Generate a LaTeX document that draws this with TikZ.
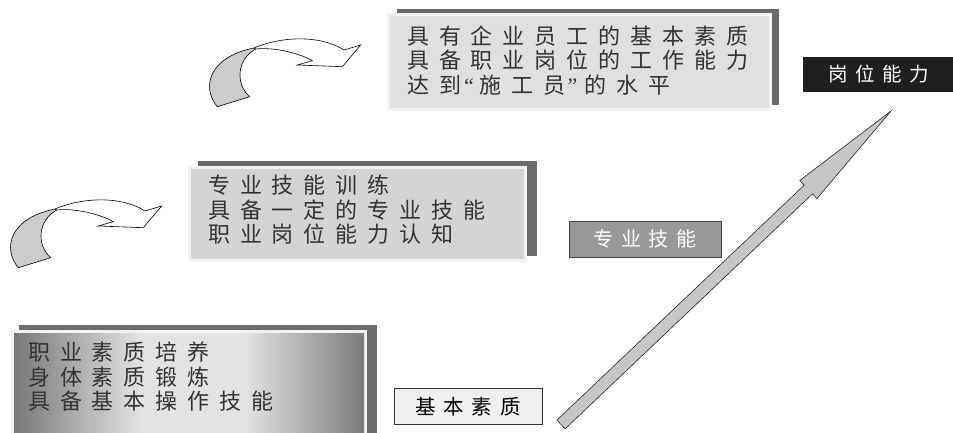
\documentclass[tikz,border=0pt]{standalone}
\usepackage{fontspec}
\usepackage{xcolor}
\usepackage{tikz}
\usetikzlibrary{calc}
\newfontfamily\cjk[LetterSpace=45]{Noto Sans CJK SC}
\newfontfamily\tagcjk[LetterSpace=38]{Noto Sans CJK SC}
\newfontfamily\quotefont{Liberation Serif}
\definecolor{shadowgray}{HTML}{6B6B6B}
\definecolor{rimgray}{HTML}{F2F2F2}

\begin{document}
\begin{tikzpicture}[x=1pt, y=-1pt,
   shadowbar/.style={fill=shadowgray},
   panel/.style={draw=rimgray, line width=3pt},
   boxtext/.style={anchor=west, inner sep=0pt, align=left, text=black!80,
      font=\cjk\fontsize{22}{24.5}\selectfont},
   tag/.style={minimum width=#1, minimum height=36pt, inner sep=0pt},
   bendarrow/.pic={
      \fill[black!20, draw=black, line width=0.6pt] (18.3,267.7) .. controls (2,248) and (10,218) .. (55,209)
         -- (56.7,210) .. controls (38,220) and (36,245) .. (50.7,257.7) -- cycle;
      \fill[white, draw=black, line width=0.6pt] (55,209) .. controls (80,198) and (120,195) .. (145,211)
         -- (161.7,206) -- (143.3,227.7) -- (98.3,226) -- (113.3,221.7)
         .. controls (100,214) and (75,208) .. (56.7,210) -- cycle;
   }]
   \useasboundingbox (0,0) rectangle (953,433);

   \fill[shadowbar] (397,9) rectangle (779,105);
   \draw[panel, fill=black!12] (388,15) rectangle (770,110);
   \node[boxtext] (post) at (407,60.5) {具有企业员工的基本素质\\具备职业岗位的工作能力\\达到{\quotefont\hspace{3pt}“\hspace{6pt}}施工员{\quotefont\hspace{2pt}”\hspace{7pt}}的水平};

   \fill[shadowbar] (198,161) rectangle (537,256);
   \draw[panel, fill=black!17] (189,167) rectangle (525,260);
   \node[boxtext] (skill) at (208,210) {专业技能训练\\具备一定的专业技能\\职业岗位能力认知};

   \fill[shadowbar] (19,325) rectangle (377,433);
   \fill[rimgray] (11,330) rectangle (367,433);
   \fill[left color=black!53, right color=black!11] (14,333) rectangle (140,433);
   \fill[black!11] (140,333) rectangle (245,433);
   \fill[left color=black!11, right color=black!52] (245,333) rectangle (364,433);
   \node[boxtext] (basis) at (28,377) {职业素质培养\\身体素质锻炼\\具备基本操作技能};

   \pic at (0,0) {bendarrow};
   \pic at (199,-161) {bendarrow};

   \node[tag=148pt, draw=black!80, fill=black!6, text=black, font=\tagcjk\fontsize{20.5}{24}\selectfont]
      (basic) at (468,406.5) {基本素质};
   \node[tag=152pt, draw=black!75, fill=black!40, text=white, font=\tagcjk\fontsize{20}{24}\selectfont]
      (major) at (645,239) {专业技能};
   \node[tag=152pt, minimum height=35pt, fill=black!88, text=white, font=\tagcjk\fontsize{19.5}{24}\selectfont]
      (ability) at (879,74.5) {岗位能力};

   \coordinate (tail) at (561,424.5);
   \coordinate (tip) at (891,111);
   \coordinate (neck) at ($(tip)!114pt!(tail)$);
   \draw[fill=black!22, draw=black!85, line width=0.6pt]
      ($(tail)!6pt!90:(tip)$) -- ($(neck)!6pt!90:(tip)$) -- ($(neck)!12.5pt!90:(tip)$)
      -- (tip) -- ($(neck)!12.5pt!-90:(tip)$) -- ($(neck)!6pt!-90:(tip)$)
      -- ($(tail)!6pt!-90:(tip)$) -- cycle;
\end{tikzpicture}
\end{document}
